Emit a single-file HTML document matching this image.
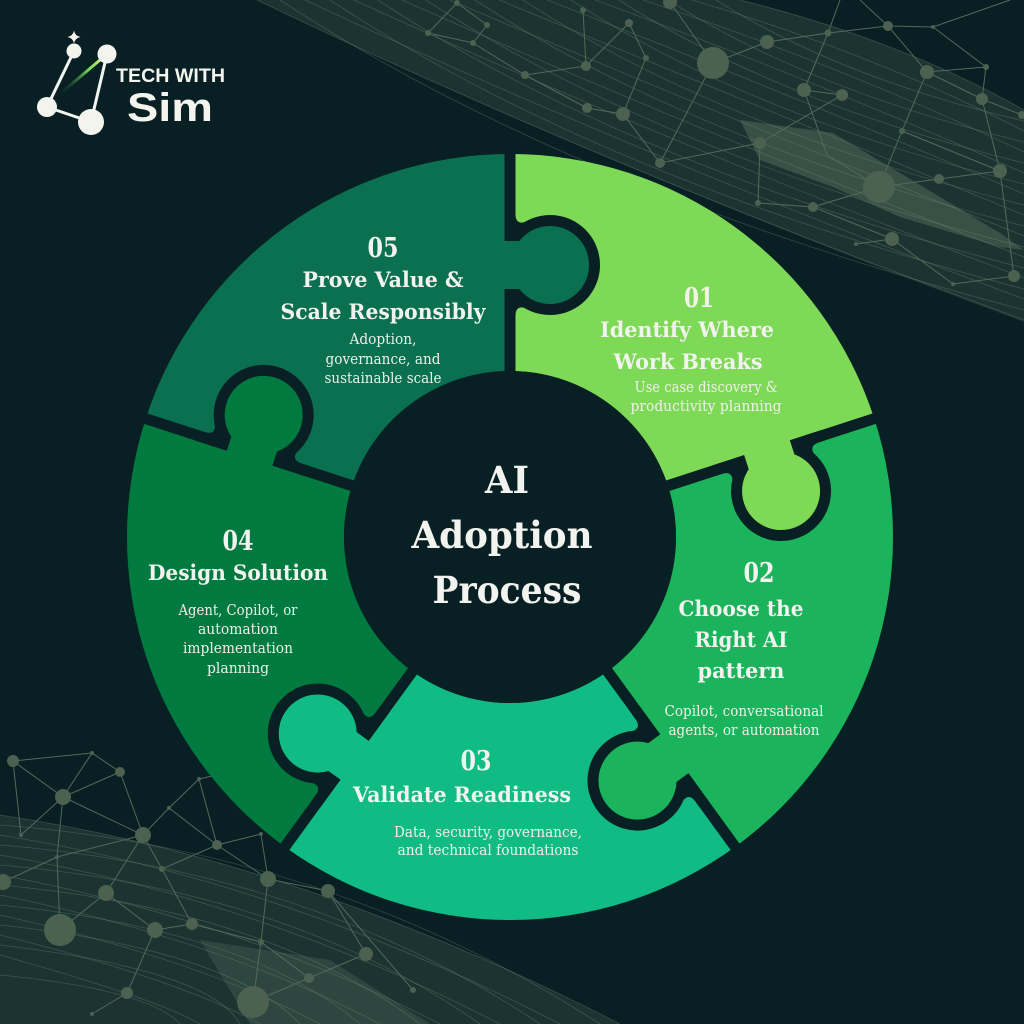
<!DOCTYPE html>
<html>
<head>
<meta charset="utf-8">
<style>
html,body{margin:0;padding:0;background:#082024;}
svg{display:block;}
.h{font-family:"DejaVu Serif","Liberation Serif",serif;font-weight:bold;fill:#f2f2ee;}
.b{font-family:"DejaVu Serif","Liberation Serif",serif;font-weight:normal;fill:#eef0ea;}
.logo{font-family:"Liberation Sans","DejaVu Sans",sans-serif;font-weight:bold;fill:#f4f4ef;}
</style>
</head>
<body>
<svg width="1024" height="1024" viewBox="0 0 1024 1024" xmlns="http://www.w3.org/2000/svg">
<defs>
<linearGradient id="lg" x1="107" y1="54" x2="60" y2="94" gradientUnits="userSpaceOnUse">
<stop offset="0" stop-color="#f4ff70"/>
<stop offset="0.4" stop-color="#6fd45a"/>
<stop offset="1" stop-color="#1a4a35" stop-opacity="0"/>
</linearGradient>
</defs>
<rect width="1024" height="1024" fill="#082024"/>

<!-- top-right mesh band -->
<path d="M257,0 L740,0 Q900,40 1024,110 L1024,322 Q600,165 257,0 Z" fill="#6a866c" fill-opacity="0.2"/>
<path d="M740,120 L833,133 L900,173 L1000,233 L1024,250 L1000,247 L900,217 L833,187 L760,160 Z" fill="#7a967a" fill-opacity="0.3"/>
<g fill="none" stroke="#7a957a" stroke-opacity="0.35" stroke-width="0.8">
<path d="M257,0 Q600,165 1024,320"/>
<path d="M305,0 Q630,152 1024,299"/>
<path d="M354,0 Q660,140 1024,278"/>
<path d="M402,0 Q690,128 1024,257"/>
<path d="M450,0 Q720,115 1024,236"/>
<path d="M499,0 Q750,102 1024,215"/>
<path d="M547,0 Q780,90 1024,194"/>
<path d="M595,0 Q810,78 1024,173"/>
<path d="M643,0 Q840,65 1024,152"/>
<path d="M692,0 Q870,52 1024,131"/>
<path d="M740,0 Q900,40 1024,110"/>
<path d="M280,0 Q570,190 1024,310"/>
<path d="M330,0 Q600,178 1024,289"/>
<path d="M378,0 Q630,166 1024,268"/>
<path d="M426,0 Q660,153 1024,247"/>
<path d="M475,0 Q690,140 1024,226"/>
<path d="M523,0 Q720,128 1024,205"/>
<path d="M571,0 Q750,116 1024,184"/>
<path d="M619,0 Q780,103 1024,163"/>
<path d="M668,0 Q810,90 1024,142"/>
<path d="M716,0 Q840,78 1024,121"/>
</g>
<g stroke="#55695a" stroke-width="1" fill="none">
<path d="M828,33 L888,26 L933,27 L986,67 L982,99 L1022,115"/>
<path d="M888,26 L927,72 L986,67 M927,72 L982,99 M927,72 L902,131 L879,187 L939,179 L1000,171 L982,99"/>
<path d="M828,33 L804,90 L842,95 L760,143 L660,163 L623,114 L646,58 L629,23"/>
<path d="M879,187 L813,207 L892,239 L953,284 L1014,276 L1000,171 M902,131 L1000,171"/>
<path d="M713,63 L767,42 L828,33 L840,0 M888,26 L860,0 M933,27 L1010,0 M760,143 L758,203 L813,207 M856,244 L892,239"/>
<path d="M457,3 L428,33 L473,43 L487,25 L457,3 M473,43 L525,75 L586,66 L583,10 M525,75 L587,108 L623,114 M586,66 L629,23"/>
<path d="M670,2 L713,63 L660,163 M804,90 L827,155 L879,187"/>
</g>
<g fill="#4c6150">
<circle cx="670" cy="2" r="7"/><circle cx="629" cy="23" r="4"/><circle cx="767" cy="42" r="7"/>
<circle cx="713" cy="63" r="16"/><circle cx="828" cy="33" r="3.5"/><circle cx="888" cy="26" r="5"/>
<circle cx="933" cy="27" r="2"/><circle cx="646" cy="58" r="3"/><circle cx="804" cy="90" r="7"/>
<circle cx="842" cy="95" r="6"/><circle cx="927" cy="72" r="7"/><circle cx="986" cy="67" r="3"/>
<circle cx="982" cy="99" r="6"/><circle cx="1022" cy="115" r="4"/><circle cx="623" cy="114" r="7"/>
<circle cx="760" cy="143" r="6"/><circle cx="902" cy="131" r="3"/><circle cx="660" cy="163" r="5"/>
<circle cx="879" cy="187" r="16"/><circle cx="1000" cy="171" r="7"/><circle cx="939" cy="179" r="5"/>
<circle cx="813" cy="207" r="5"/><circle cx="758" cy="203" r="3"/><circle cx="892" cy="239" r="7"/>
<circle cx="856" cy="244" r="2"/><circle cx="1014" cy="276" r="6"/><circle cx="953" cy="284" r="2"/>
<circle cx="457" cy="3" r="3"/><circle cx="428" cy="33" r="3"/><circle cx="487" cy="25" r="3"/>
<circle cx="473" cy="43" r="3"/><circle cx="583" cy="10" r="3"/><circle cx="586" cy="66" r="5"/>
<circle cx="525" cy="75" r="4"/><circle cx="587" cy="108" r="5"/>
</g>

<!-- bottom-left mesh -->
<path d="M0,815 Q300,860 620,1024 L0,1024 Z" fill="#6a866c" fill-opacity="0.2"/>
<path d="M200,940 L330,960 L430,1024 L250,1024 Z" fill="#7a967a" fill-opacity="0.2"/>
<g fill="none" stroke="#7a957a" stroke-opacity="0.35" stroke-width="0.8">
<path d="M0,815 Q300,860 620,1024"/>
<path d="M0,835 Q280,880 560,1024"/>
<path d="M0,855 Q260,900 500,1024"/>
<path d="M0,875 Q240,920 440,1024"/>
<path d="M0,895 Q220,940 380,1024"/>
<path d="M0,915 Q200,960 320,1024"/>
<path d="M0,935 Q180,980 260,1024"/>
<path d="M0,955 Q160,1000 200,1024"/>
<path d="M0,825 Q330,850 600,1024"/>
<path d="M0,845 Q310,870 540,1024"/>
<path d="M0,865 Q290,890 480,1024"/>
<path d="M0,885 Q270,910 420,1024"/>
<path d="M0,905 Q250,930 360,1024"/>
<path d="M0,925 Q230,950 300,1024"/>
<path d="M0,945 Q210,970 240,1024"/>
<path d="M0,975 Q150,990 180,1024"/>
</g>
<g stroke="#55695a" stroke-width="1" fill="none">
<path d="M13,761 L92,753 L120,772 L143,835 L169,808 L199,779 L217,845 L261,834 L268,879 L328,891 L366,954 L309,978 L261,942 L268,879"/>
<path d="M13,761 L63,797 L92,753 M63,797 L120,772 M63,797 L143,835 M13,761 L21,835 L63,797 L57,857 L143,835 M169,808 L217,845 L162,869 L143,835"/>
<path d="M217,845 L268,879 M57,857 L3,882 M143,835 L106,893 L60,930 L57,857 M162,869 L192,924 L155,930 L127,993 L92,1014"/>
<path d="M192,924 L261,942 L253,1002 M199,779 L281,760 M106,893 L155,930 M328,891 L413,990 M309,978 L253,1002"/>
</g>
<g fill="#4c6150">
<circle cx="13" cy="761" r="6"/><circle cx="92" cy="753" r="2"/><circle cx="120" cy="772" r="5"/>
<circle cx="63" cy="797" r="8"/><circle cx="21" cy="835" r="2"/><circle cx="143" cy="835" r="8"/>
<circle cx="169" cy="808" r="2"/><circle cx="199" cy="779" r="2"/><circle cx="217" cy="845" r="5"/>
<circle cx="261" cy="834" r="2"/><circle cx="57" cy="857" r="2"/><circle cx="162" cy="869" r="3"/>
<circle cx="268" cy="879" r="8"/><circle cx="328" cy="891" r="7"/><circle cx="3" cy="882" r="8"/>
<circle cx="106" cy="893" r="8"/><circle cx="60" cy="930" r="16"/><circle cx="155" cy="930" r="8"/>
<circle cx="192" cy="924" r="6"/><circle cx="261" cy="942" r="3"/><circle cx="366" cy="954" r="7"/>
<circle cx="309" cy="978" r="5"/><circle cx="127" cy="993" r="6"/><circle cx="253" cy="1002" r="16"/>
<circle cx="92" cy="1014" r="2"/><circle cx="413" cy="990" r="3"/><circle cx="281" cy="760" r="2"/>
</g>

<!-- puzzle pieces -->
<path d="M510,154 A383,383 0 0 1 874.27,418.65 L667.88,485.71 A166,166 0 0 0 510,371 Z" fill="#7ed957"/>
<path d="M874.27,418.65 A383,383 0 0 1 735.13,846.85 L607.57,671.29 A166,166 0 0 0 667.88,485.71 Z" fill="#1bb35b"/>
<path d="M735.13,846.85 A383,383 0 0 1 284.87,846.85 L412.43,671.29 A166,166 0 0 0 607.57,671.29 Z" fill="#10bc84"/>
<path d="M284.87,846.85 A383,383 0 0 1 145.73,418.65 L352.12,485.71 A166,166 0 0 0 412.43,671.29 Z" fill="#007a3e"/>
<path d="M145.73,418.65 A383,383 0 0 1 510,154 L510,371 A166,166 0 0 0 352.12,485.71 Z" fill="#0a7050"/>

<!-- separators + knobs (local coords: knob centre at (40,-272)) -->
<g transform="translate(510,537)">
  <g transform="rotate(0)">
    <line x1="0" y1="-150" x2="0" y2="-395" stroke="#082024" stroke-width="11"/>
    <path d="M-5.5,-330 L5.5,-330 L5.5,-322 Q6,-313 14,-314.7 A50,50 0 1 1 14,-229.3 Q6,-231 5.5,-222 L5.5,-214 L-5.5,-214 Z" fill="#082024"/>
    <path d="M-8,-296 L9.3,-296 A39,39 0 1 1 9.3,-248 L-8,-248 Z" fill="#0a7050"/>
  </g>
  <g transform="rotate(72)">
    <line x1="0" y1="-150" x2="0" y2="-395" stroke="#082024" stroke-width="11"/>
    <path d="M-5.5,-330 L5.5,-330 L5.5,-322 Q6,-313 14,-314.7 A50,50 0 1 1 14,-229.3 Q6,-231 5.5,-222 L5.5,-214 L-5.5,-214 Z" fill="#082024"/>
    <path d="M-8,-296 L9.3,-296 A39,39 0 1 1 9.3,-248 L-8,-248 Z" fill="#7ed957"/>
  </g>
  <g transform="rotate(144)">
    <line x1="0" y1="-150" x2="0" y2="-395" stroke="#082024" stroke-width="11"/>
    <path d="M-5.5,-330 L5.5,-330 L5.5,-322 Q6,-313 14,-314.7 A50,50 0 1 1 14,-229.3 Q6,-231 5.5,-222 L5.5,-214 L-5.5,-214 Z" fill="#082024"/>
    <path d="M-8,-296 L9.3,-296 A39,39 0 1 1 9.3,-248 L-8,-248 Z" fill="#1bb35b"/>
  </g>
  <g transform="rotate(216)">
    <line x1="0" y1="-150" x2="0" y2="-395" stroke="#082024" stroke-width="11"/>
    <path d="M-5.5,-330 L5.5,-330 L5.5,-322 Q6,-313 14,-314.7 A50,50 0 1 1 14,-229.3 Q6,-231 5.5,-222 L5.5,-214 L-5.5,-214 Z" fill="#082024"/>
    <path d="M-8,-296 L9.3,-296 A39,39 0 1 1 9.3,-248 L-8,-248 Z" fill="#10bc84"/>
  </g>
  <g transform="rotate(288)">
    <line x1="0" y1="-150" x2="0" y2="-395" stroke="#082024" stroke-width="11"/>
    <path d="M-5.5,-330 L5.5,-330 L5.5,-322 Q6,-313 14,-314.7 A50,50 0 1 1 14,-229.3 Q6,-231 5.5,-222 L5.5,-214 L-5.5,-214 Z" fill="#082024"/>
    <path d="M-8,-296 L9.3,-296 A39,39 0 1 1 9.3,-248 L-8,-248 Z" fill="#007a3e"/>
  </g>
</g>
<circle cx="510" cy="537" r="166" fill="#082024"/>

<!-- center title -->
<text class="h" x="507" y="493" font-size="37" text-anchor="middle" textLength="44" lengthAdjust="spacingAndGlyphs">AI</text>
<text class="h" x="502" y="548" font-size="37" text-anchor="middle" textLength="181" lengthAdjust="spacingAndGlyphs">Adoption</text>
<text class="h" x="507" y="603" font-size="37" text-anchor="middle" textLength="149" lengthAdjust="spacingAndGlyphs">Process</text>

<!-- 01 -->
<text class="h" x="699" y="307" font-size="27" text-anchor="middle" textLength="30" lengthAdjust="spacingAndGlyphs">01</text>
<text class="h" x="687" y="337" font-size="21" text-anchor="middle" textLength="174" lengthAdjust="spacingAndGlyphs">Identify Where</text>
<text class="h" x="688" y="369" font-size="21" text-anchor="middle" textLength="149" lengthAdjust="spacingAndGlyphs">Work Breaks</text>
<text class="b" x="706" y="392" font-size="14.5" text-anchor="middle" textLength="143" lengthAdjust="spacingAndGlyphs">Use case discovery &amp;</text>
<text class="b" x="706" y="411" font-size="14.5" text-anchor="middle" textLength="151" lengthAdjust="spacingAndGlyphs">productivity planning</text>

<!-- 02 -->
<text class="h" x="759" y="582" font-size="27" text-anchor="middle" textLength="31" lengthAdjust="spacingAndGlyphs">02</text>
<text class="h" x="741" y="616" font-size="21" text-anchor="middle" textLength="125" lengthAdjust="spacingAndGlyphs">Choose the</text>
<text class="h" x="741" y="647" font-size="21" text-anchor="middle" textLength="93" lengthAdjust="spacingAndGlyphs">Right AI</text>
<text class="h" x="741" y="678" font-size="21" text-anchor="middle" textLength="87" lengthAdjust="spacingAndGlyphs">pattern</text>
<text class="b" x="744" y="716" font-size="14.5" text-anchor="middle" textLength="159" lengthAdjust="spacingAndGlyphs">Copilot, conversational</text>
<text class="b" x="744" y="735" font-size="14.5" text-anchor="middle" textLength="151" lengthAdjust="spacingAndGlyphs">agents, or automation</text>

<!-- 03 -->
<text class="h" x="476" y="770" font-size="27" text-anchor="middle" textLength="31" lengthAdjust="spacingAndGlyphs">03</text>
<text class="h" x="462" y="802" font-size="21" text-anchor="middle" textLength="218" lengthAdjust="spacingAndGlyphs">Validate Readiness</text>
<text class="b" x="488" y="837" font-size="14.5" text-anchor="middle" textLength="188" lengthAdjust="spacingAndGlyphs">Data, security, governance,</text>
<text class="b" x="488" y="855" font-size="14.5" text-anchor="middle" textLength="181" lengthAdjust="spacingAndGlyphs">and technical foundations</text>

<!-- 04 -->
<text class="h" x="238" y="550" font-size="27" text-anchor="middle" textLength="31" lengthAdjust="spacingAndGlyphs">04</text>
<text class="h" x="238" y="580" font-size="21" text-anchor="middle" textLength="180" lengthAdjust="spacingAndGlyphs">Design Solution</text>
<text class="b" x="238" y="615" font-size="14.5" text-anchor="middle" textLength="119" lengthAdjust="spacingAndGlyphs">Agent, Copilot, or</text>
<text class="b" x="238" y="634" font-size="14.5" text-anchor="middle" textLength="80" lengthAdjust="spacingAndGlyphs">automation</text>
<text class="b" x="238" y="653" font-size="14.5" text-anchor="middle" textLength="110" lengthAdjust="spacingAndGlyphs">implementation</text>
<text class="b" x="238" y="673" font-size="14.5" text-anchor="middle" textLength="62" lengthAdjust="spacingAndGlyphs">planning</text>

<!-- 05 -->
<text class="h" x="383" y="257" font-size="27" text-anchor="middle" textLength="31" lengthAdjust="spacingAndGlyphs">05</text>
<text class="h" x="383" y="287" font-size="21" text-anchor="middle" textLength="161" lengthAdjust="spacingAndGlyphs">Prove Value &amp;</text>
<text class="h" x="383" y="319" font-size="21" text-anchor="middle" textLength="205" lengthAdjust="spacingAndGlyphs">Scale Responsibly</text>
<text class="b" x="383" y="344" font-size="14.5" text-anchor="middle" textLength="67" lengthAdjust="spacingAndGlyphs">Adoption,</text>
<text class="b" x="383" y="364" font-size="14.5" text-anchor="middle" textLength="115" lengthAdjust="spacingAndGlyphs">governance, and</text>
<text class="b" x="383" y="383" font-size="14.5" text-anchor="middle" textLength="117" lengthAdjust="spacingAndGlyphs">sustainable scale</text>

<!-- logo -->
<g stroke="#f4f4ef" stroke-width="3" fill="none" stroke-linecap="round">
<line x1="74" y1="51" x2="47" y2="107"/>
<line x1="47" y1="107" x2="91" y2="122"/>
<line x1="107" y1="54" x2="91" y2="122"/>
</g>
<line x1="107" y1="54" x2="60" y2="94" stroke="url(#lg)" stroke-width="3" stroke-linecap="round"/>
<g fill="#f4f4ef">
<circle cx="74" cy="51" r="7.5"/>
<circle cx="107" cy="54" r="9.5"/>
<circle cx="47" cy="107" r="10"/>
<circle cx="91" cy="122" r="13"/>
<path d="M74,30.5 Q75,36 80.5,37 Q75,38 74,43.5 Q73,38 67.5,37 Q73,36 74,30.5 Z"/>
</g>
<text class="logo" x="116" y="82" font-size="19" textLength="109" lengthAdjust="spacingAndGlyphs">TECH WITH</text>
<text class="logo" x="127" y="121" font-size="40" textLength="86" lengthAdjust="spacingAndGlyphs">Sim</text>
</svg>
</body>
</html>
